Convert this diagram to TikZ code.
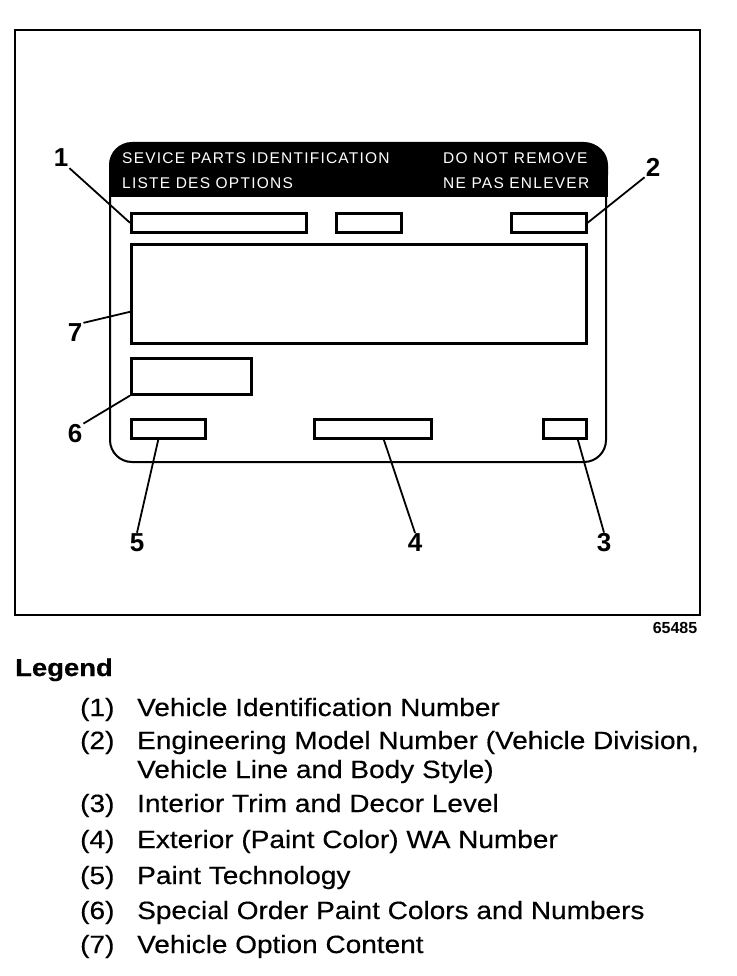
\documentclass[tikz,border=0pt]{standalone}
\usepackage{fontspec}
\setmainfont{Liberation Sans}
\newfontfamily\legfont[FakeStretch=1.12,FakeBold=0.4]{Liberation Sans}
\newfontfamily\hdrfont[LetterSpace=8]{Liberation Sans}
\begin{document}
\begin{tikzpicture}[x=1pt,y=-1pt,
  fieldbox/.style={draw, line width=2.6pt, rectangle, inner sep=0pt, anchor=north west},
  leader/.style={line width=1.8pt},
  callout/.style={font=\fontsize{26}{26}\selectfont\bfseries, inner sep=1pt},
  hdrtext/.style={font=\fontsize{15.5}{16}\hdrfont, text=white, anchor=base west, inner sep=0pt},
  legnum/.style={font=\fontsize{25}{28}\legfont, anchor=base west, inner sep=0pt},
  legtext/.style={font=\fontsize{25}{28}\legfont, anchor=base west, inner sep=0pt}]
\useasboundingbox (0,0) rectangle (736,976);
% outer frame
\draw[line width=2.4pt] (15,30) rectangle (700,615);
% label body
\draw[line width=2pt, rounded corners=22pt] (110,143) rectangle (606,462);
\fill[black, rounded corners=22pt] (110,197) -- (110,143) -- (608,143) -- (608,197) -- cycle;
\fill[black] (110,175) rectangle (608,197);
% header texts
\node[hdrtext] (h1) at (122,164) {SEVICE PARTS IDENTIFICATION};
\node[hdrtext] (h2) at (122,189) {LISTE DES OPTIONS};
\node[hdrtext] (h3) at (443,164) {DO NOT REMOVE};
\node[hdrtext] (h4) at (443,189) {NE PAS ENLEVER};
% field boxes
\node[fieldbox, minimum width=175pt, minimum height=19pt] (b1) at (130,212) {};
\node[fieldbox, minimum width=65pt, minimum height=19pt] (bm) at (335,212) {};
\node[fieldbox, minimum width=75pt, minimum height=19pt] (b2) at (510,212) {};
\node[fieldbox, minimum width=455pt, minimum height=99pt] (b7) at (130,243) {};
\node[fieldbox, minimum width=120pt, minimum height=36pt] (b6) at (130,357) {};
\node[fieldbox, minimum width=74pt, minimum height=19pt] (b5) at (130,418) {};
\node[fieldbox, minimum width=117pt, minimum height=19pt] (b4) at (313,418) {};
\node[fieldbox, minimum width=43pt, minimum height=19pt] (b3) at (542,418) {};
% callout numbers
\node[callout] (l1) at (61,158) {1};
\node[callout] (l2) at (653,167) {2};
\node[callout] (l7) at (75,333) {7};
\node[callout] (l6) at (75,434) {6};
\node[callout] (l5) at (137,543) {5};
\node[callout] (l4) at (415,543) {4};
\node[callout] (l3) at (604,543) {3};
% leaders
\draw[leader] (l1.south east) -- (b1.west);
\draw[leader] (l2.south west) -- (b2.east);
\draw[leader] (l7.north east) -- ([yshift=-18pt]b7.west);
\draw[leader] (l6.north east) -- (b6.south west);
\draw[leader] (l5.north) -- ([xshift=-10pt]b5.south);
\draw[leader] (l4.north) -- ([xshift=11pt]b4.south);
\draw[leader] (l3.north) -- ([xshift=13pt]b3.south);
% figure number
\node[font=\fontsize{16}{16}\selectfont\bfseries, inner sep=0pt] (fig) at (675,628) {65485};
% legend
\node[font=\fontsize{24.5}{24}\legfont\bfseries, anchor=base west, inner sep=0pt] (leg) at (15,676) {Legend};
\node[legnum] (n1) at (80,716) {(1)};
\node[legtext] (t1) at (137,716) {Vehicle Identification Number};
\node[legnum] (n2) at (80,749) {(2)};
\node[legtext] (t2) at (137,749) {Engineering Model Number (Vehicle Division,};
\node[legtext] (t2b) at (137,778) {Vehicle Line and Body Style)};
\node[legnum] (n3) at (80,812) {(3)};
\node[legtext] (t3) at (137,812) {Interior Trim and Decor Level};
\node[legnum] (n4) at (80,848) {(4)};
\node[legtext] (t4) at (137,848) {Exterior (Paint Color) WA Number};
\node[legnum] (n5) at (80,884) {(5)};
\node[legtext] (t5) at (137,884) {Paint Technology};
\node[legnum] (n6) at (80,919) {(6)};
\node[legtext] (t6) at (137,919) {Special Order Paint Colors and Numbers};
\node[legnum] (n7) at (80,953) {(7)};
\node[legtext] (t7) at (137,953) {Vehicle Option Content};
\end{tikzpicture}
\end{document}
